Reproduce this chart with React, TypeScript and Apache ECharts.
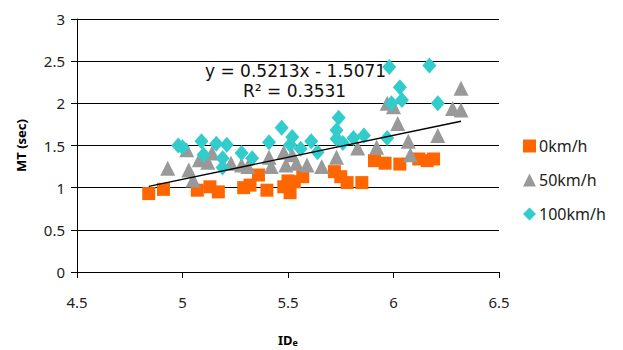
import React, { useEffect, useRef } from "react";
import * as echarts from "echarts";

const xTicks = ["4.5", "5", "5.5", "6", "6.5"];
const yTicks = ["0", "0.5", "1", "1.5", "2", "2.5", "3"];

const kmh0X = [4.84, 4.91, 5.07, 5.13, 5.17, 5.29, 5.32, 5.36, 5.40, 5.48, 5.50, 5.51, 5.53, 5.57, 5.72, 5.75, 5.78, 5.85, 5.91, 5.96, 6.03, 6.12, 6.16, 6.19];
const kmh0Y = [0.93, 0.98, 0.97, 1.01, 0.95, 1.0, 1.03, 1.15, 0.97, 1.01, 1.08, 0.94, 1.07, 1.13, 1.19, 1.13, 1.06, 1.06, 1.32, 1.29, 1.28, 1.34, 1.32, 1.34];

const kmh50X = [4.93, 5.02, 5.03, 5.05, 5.08, 5.12, 5.14, 5.23, 5.28, 5.31, 5.41, 5.42, 5.48, 5.52, 5.49, 5.54, 5.59, 5.66, 5.73, 5.83, 5.92, 5.97, 6.0, 6.02, 6.07, 6.08, 6.21, 6.28, 6.32, 6.32];
const kmh50Y = [1.23, 1.45, 1.21, 1.09, 1.33, 1.30, 1.41, 1.29, 1.27, 1.25, 1.36, 1.25, 1.42, 1.39, 1.27, 1.29, 1.27, 1.25, 1.36, 1.47, 1.48, 2.0, 1.96, 1.76, 1.55, 1.39, 1.62, 1.94, 2.18, 1.92];

const kmh100X = [4.98, 5.0, 5.09, 5.10, 5.16, 5.21, 5.19, 5.19, 5.28, 5.33, 5.41, 5.47, 5.52, 5.51, 5.56, 5.61, 5.64, 5.74, 5.73, 5.73, 5.76, 5.81, 5.86, 5.97, 5.98, 6.17, 6.03, 5.99, 6.04, 6.21];
const kmh100Y = [1.5, 1.48, 1.55, 1.39, 1.52, 1.51, 1.35, 1.24, 1.41, 1.35, 1.54, 1.71, 1.6, 1.51, 1.46, 1.55, 1.42, 1.83, 1.68, 1.58, 1.53, 1.59, 1.62, 1.59, 2.43, 2.45, 2.19, 2.0, 2.04, 2.0];

const trendSlope = 0.5213;
const trendIntercept = -1.5071;
const trendRange = [4.84, 6.32];

const seriesNames = ["0km/h", "50km/h", "100km/h"];

const zip = (xs: number[], ys: number[]) => xs.map((x, i) => [x, ys[i]]);

export default function App() {
  const ref = useRef<HTMLDivElement>(null);
  useEffect(() => {
    if (!ref.current) return;
    const chart = echarts.init(ref.current, undefined, { renderer: "svg", width: 623, height: 350 });
    const font = "'Noto Sans', 'Open Sans', sans-serif";
    const eqFont = "'DejaVu Sans', 'Noto Sans', sans-serif";
    chart.setOption({
      animation: false,
      backgroundColor: "#ffffff",
      textStyle: { fontFamily: font },
      grid: { left: 77, width: 422, top: 19, height: 253, containLabel: false, outerBoundsMode: "none" },
      xAxis: {
        type: "value",
        min: 4.5,
        max: 6.5,
        interval: 0.5,
        name: "{a|ID}{b|e}",
        nameLocation: "middle",
        nameGap: 60,
        nameTextStyle: {
          rich: {
            a: { fontSize: 13, fontWeight: "bold", color: "#000", fontFamily: font },
            b: { fontSize: 9, fontWeight: "bold", color: "#000", fontFamily: font, verticalAlign: "bottom", padding: [6, 0, 0, 0] },
          },
        },
        axisLine: { show: true, lineStyle: { color: "#000", width: 1 } },
        axisTick: { show: true, inside: false, length: 6, lineStyle: { color: "#000" } },
        axisLabel: {
          margin: 22,
          fontSize: 15,
          color: "#222",
          fontFamily: font,
          formatter: (v: number) => xTicks.find((t) => Math.abs(parseFloat(t) - v) < 1e-6) ?? "",
        },
        splitLine: { show: false },
      },
      yAxis: {
        type: "value",
        min: 0,
        max: 3,
        interval: 0.5,
        name: "MT (sec)",
        nameLocation: "middle",
        nameGap: 50,
        nameRotate: 90,
        nameTextStyle: { fontSize: 13, fontWeight: "bold", color: "#000", fontFamily: font },
        axisLine: { show: true, lineStyle: { color: "#000", width: 1 } },
        axisTick: { show: true, inside: false, length: 6, lineStyle: { color: "#000" } },
        axisLabel: {
          margin: 12,
          fontSize: 15,
          color: "#222",
          fontFamily: font,
          formatter: (v: number) => yTicks.find((t) => Math.abs(parseFloat(t) - v) < 1e-6) ?? "",
        },
        splitLine: { show: true, lineStyle: { color: "#000", width: 1 } },
      },
      legend: {
        orient: "vertical",
        left: 518,
        top: 133,
        itemGap: 18,
        itemWidth: 13,
        itemHeight: 13,
        data: seriesNames,
        textStyle: { fontSize: 16, color: "#222", fontFamily: font, padding: [0, 0, 0, -2] },
      },
      series: [
        {
          name: seriesNames[0],
          type: "scatter",
          symbol: "rect",
          symbolSize: 13,
          itemStyle: { color: "#FF6600", opacity: 1 },
          data: zip(kmh0X, kmh0Y),
        },
        {
          name: seriesNames[1],
          type: "scatter",
          symbol: "triangle",
          symbolSize: 15,
          itemStyle: { color: "#999999", opacity: 1 },
          data: zip(kmh50X, kmh50Y),
        },
        {
          name: seriesNames[2],
          type: "scatter",
          symbol: "diamond",
          symbolSize: [14, 16],
          itemStyle: { color: "#33CCCC", opacity: 1 },
          data: zip(kmh100X, kmh100Y),
        },
        {
          name: "trend",
          type: "line",
          showSymbol: false,
          symbol: "none",
          silent: true,
          lineStyle: { color: "#000", width: 1.3 },
          data: trendRange.map((x) => [x, trendSlope * x + trendIntercept]),
          z: 5,
        },
      ],
      graphic: [
        {
          type: "text",
          left: 205,
          top: 62,
          style: { text: "y = 0.5213x - 1.5071", fontSize: 17, fill: "#111", fontFamily: eqFont },
          z: 10,
        },
        {
          type: "text",
          left: 243,
          top: 82,
          style: { text: "R² = 0.3531", fontSize: 17, fill: "#111", fontFamily: eqFont },
          z: 10,
        },
      ],
    });
    return () => chart.dispose();
  }, []);
  return (
    <div
      ref={ref}
      style={{ position: "fixed", left: 0, top: 0, width: 623, height: 350 }}
    />
  );
}
